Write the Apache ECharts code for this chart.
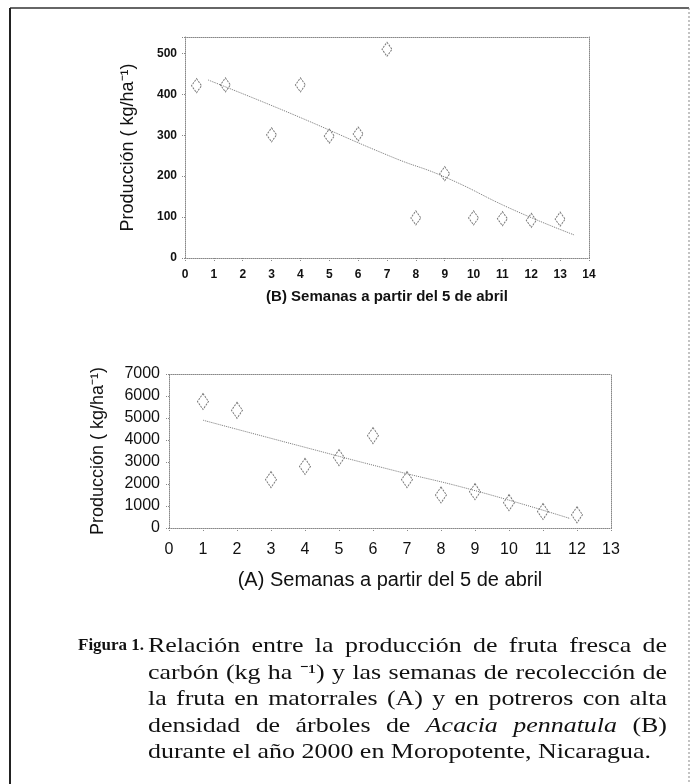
<!DOCTYPE html>
<html><head><meta charset="utf-8">
<script src="https://cdn.jsdelivr.net/npm/echarts@6/dist/echarts.min.js"></script>
<style>html,body{margin:0;padding:0;background:#fff}#c{width:695px;height:784px}</style>
</head><body><div id="c"></div>
<script>
// Chart B (top)
var weeksB = [0.4, 1.4, 3, 4, 5, 6, 7, 8, 9, 10, 11, 12, 13];
var prodB = [421, 423, 301, 423, 298, 303, 510, 98, 206, 98, 96, 92, 95];
var trendBx = [0.8, 3.5, 7.2, 9, 11.4, 13.5];
var trendBy = [435, 358, 246, 198, 117, 56];
// Chart A (bottom)
var weeksA = [1, 2, 3, 4, 5, 6, 7, 8, 9, 10, 11, 12];
var prodA = [5750, 5350, 2200, 2800, 3200, 4200, 2200, 1500, 1650, 1150, 750, 600];
var trendAx = [1, 3.84, 6.5, 9, 11.8];
var trendAy = [4900, 3733, 2659, 1700, 429];

var yTitle = 'Producción ( kg/ha⁻¹)';
var xTitleB = '(B) Semanas a partir del 5 de abril';
var xTitleA = '(A) Semanas a partir del 5 de abril';
var captionLines = [
  'Relación entre la producción de fruta fresca de',
  'carbón (kg ha ⁻¹) y las semanas de recolección de',
  'la fruta en matorrales (A) y en potreros con alta',
  'densidad de árboles de Acacia pennatula (B)',
  'durante el año 2000 en Moropotente, Nicaragua.'
];
var captionLabel = 'Figura 1.';
var italicWords = ['Acacia', 'pennatula'];

function pairs(xs, ys) { return xs.map(function (x, i) { return [x, ys[i]]; }); }

var SANS = "'Liberation Sans', Arial, sans-serif";
var SERIF = "'Liberation Serif', 'Times New Roman', serif";
var dotted = { color: '#888', type: 'dotted', width: 1 };

var chart = echarts.init(document.getElementById('c'), null, { renderer: 'canvas' });

// caption justification
var ctx = document.createElement('canvas').getContext('2d');
var capSize = 21;
var capLeft = 148, capRight = 667, lastWidth = 503;
var capY = [646, 673, 699, 726, 752];
var graphics = [];
function fontOf(w) { return (italicWords.indexOf(w) >= 0 ? 'italic ' : '') + capSize + 'px ' + SERIF; }
function measure(f, t) { ctx.font = f; return ctx.measureText(t).width; }
var lastLine = captionLines[captionLines.length - 1];
var sx = lastWidth / measure(capSize + 'px ' + SERIF, lastLine);
captionLines.forEach(function (line, li) {
  var words = line.split(' ');
  var widths = words.map(function (w) { return measure(fontOf(w), w) * sx; });
  var total = widths.reduce(function (a, b) { return a + b; }, 0);
  var sp = measure(capSize + 'px ' + SERIF, ' ') * sx;
  if (li < captionLines.length - 1) sp = (capRight - capLeft - total) / (words.length - 1);
  var x = capLeft;
  words.forEach(function (w, i) {
    graphics.push({ type: 'text', x: x, y: capY[li], scaleX: sx, style: { x: 0, y: 0, text: w, font: fontOf(w), fill: '#111', textVerticalAlign: 'middle' } });
    x += widths[i] + sp;
  });
});
graphics.push({ type: 'text', x: 78, y: capY[0], style: { x: 0, y: 0, text: captionLabel, font: 'bold 17px ' + SERIF, fill: '#111', textVerticalAlign: 'middle' } });
// outer frame
graphics.push({ type: 'line', shape: { x1: 10, y1: 8, x2: 689, y2: 8 }, style: { stroke: '#333', lineWidth: 1.5 } });
graphics.push({ type: 'line', shape: { x1: 10, y1: 8, x2: 10, y2: 784 }, style: { stroke: '#222', lineWidth: 2 } });
graphics.push({ type: 'line', shape: { x1: 689, y1: 8, x2: 689, y2: 784 }, style: { stroke: '#888', lineWidth: 1, lineDash: [2, 2] } });

function mainX(idx, max, fs, margin, name, gap, nfs, bold) {
  return {
    type: 'value', gridIndex: idx, min: 0, max: max, interval: 1, position: 'bottom',
    axisLine: { show: true, onZero: false, lineStyle: dotted },
    axisTick: { show: true, length: 3, lineStyle: dotted },
    splitLine: { show: false },
    axisLabel: { color: '#111', fontSize: fs, fontFamily: SANS, fontWeight: bold ? 'bold' : 'normal', margin: margin },
    name: name, nameLocation: 'middle', nameGap: gap,
    nameTextStyle: { color: '#111', fontSize: nfs, fontFamily: SANS, fontWeight: bold ? 'bold' : 'normal' }
  };
}
function mainY(idx, max, interval, fs, margin, gap, nfs, bold) {
  return {
    type: 'value', gridIndex: idx, min: 0, max: max, interval: interval, position: 'left',
    axisLine: { show: true, onZero: false, lineStyle: dotted },
    axisTick: { show: true, length: 3, lineStyle: dotted },
    splitLine: { show: false },
    axisLabel: {
      color: '#111', fontSize: fs, fontFamily: SANS, fontWeight: bold ? 'bold' : 'normal', margin: margin,
      formatter: function (v) { return v % interval === 0 ? String(v) : ''; }
    },
    name: yTitle, nameLocation: 'middle', nameGap: gap,
    nameTextStyle: { color: '#111', fontSize: nfs, fontFamily: SANS }
  };
}
function frameX(idx, max) {
  return { type: 'value', gridIndex: idx, min: 0, max: max, position: 'top',
    axisLine: { show: true, onZero: false, lineStyle: dotted }, axisTick: { show: false }, axisLabel: { show: false }, splitLine: { show: false } };
}
function frameY(idx, max) {
  return { type: 'value', gridIndex: idx, min: 0, max: max, position: 'right',
    axisLine: { show: true, onZero: false, lineStyle: dotted }, axisTick: { show: false }, axisLabel: { show: false }, splitLine: { show: false } };
}

var diamondStyle = { color: '#fff', borderColor: '#555', borderWidth: 1, borderType: [2, 1] };

chart.setOption({
  animation: false,
  backgroundColor: '#fff',
  grid: [
    { left: 185, top: 37, width: 404, height: 221 },
    { left: 169, top: 374, width: 442, height: 154 }
  ],
  xAxis: [
    mainX(0, 14, 12, 11, xTitleB, 31, 15, true),
    mainX(1, 13, 16, 14, xTitleA, 42, 20, false),
    frameX(0, 14), frameX(1, 13)
  ],
  yAxis: [
    mainY(0, 540, 100, 12, 8, 48, 18, true),
    mainY(1, 7000, 1000, 16, 9, 62, 18, false),
    frameY(0, 540), frameY(1, 7000)
  ],
  series: [
    { type: 'scatter', xAxisIndex: 0, yAxisIndex: 0, data: pairs(weeksB, prodB), symbol: 'diamond', symbolSize: [10, 14], itemStyle: diamondStyle },
    { type: 'line', xAxisIndex: 0, yAxisIndex: 0, data: pairs(trendBx, trendBy), symbol: 'none', smooth: true, lineStyle: { color: '#777', type: 'dotted', width: 1 } },
    { type: 'scatter', xAxisIndex: 1, yAxisIndex: 1, data: pairs(weeksA, prodA), symbol: 'diamond', symbolSize: [11, 16], itemStyle: diamondStyle },
    { type: 'line', xAxisIndex: 1, yAxisIndex: 1, data: pairs(trendAx, trendAy), symbol: 'none', smooth: true, lineStyle: { color: '#777', type: 'dotted', width: 1 } }
  ],
  graphic: graphics
});
</script></body></html>
